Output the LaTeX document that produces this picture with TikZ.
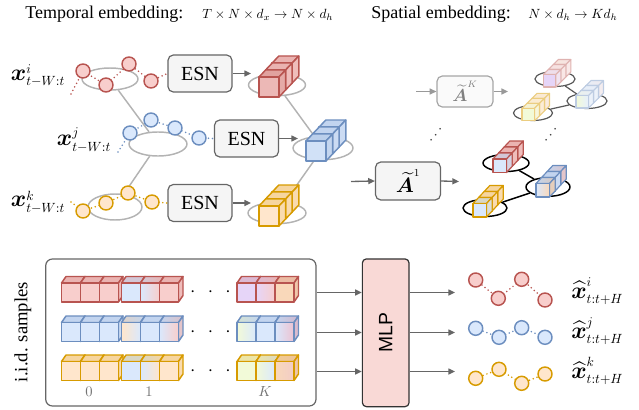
\documentclass[tikz,border=0pt]{standalone}
\usepackage{amsmath,amssymb,bm}
\usepackage{graphicx}
\usepackage{fontspec}
\usetikzlibrary{arrows.meta,shapes.geometric}
\newfontfamily\tms{Liberation Serif}
\newfontfamily\arl{Liberation Sans}
\definecolor{rF}{HTML}{F8CECC}\definecolor{rS}{HTML}{B85450}
\definecolor{bF}{HTML}{DAE8FC}\definecolor{bS}{HTML}{6C8EBF}
\definecolor{yF}{HTML}{FFE6CC}\definecolor{yS}{HTML}{D79B00}
\definecolor{pF}{HTML}{E6D5F8}
\definecolor{oF}{HTML}{F9D8BA}
\definecolor{gF}{HTML}{F2FAD8}
\definecolor{pkF}{HTML}{EBC2D2}
\definecolor{mlpF}{HTML}{F9D9D6}
\definecolor{grayL}{HTML}{B3B3B3}
\definecolor{grayD}{HTML}{666666}
\newcommand\bx{\mbox{\scalebox{1.22}{$\bm{x}$}}}
\newcommand\hbx{\mbox{\scalebox{1.22}{$\widehat{\bm{x}}$}}}
\newcommand\tA{\mbox{\scalebox{1.3}{$\widetilde{\bm{A}}$}}}
\def\cbS{19}\def\cbX{4.5}\def\cbY{-6.5}\def\cbW{1.1pt}
\newcommand\ccube[5]{%
 \begin{scope}[shift={({#1},{#2})}]
  \path[draw=#3, line width=\cbW, left color=#4!78!#3, right color=#5!78!#3] (0,0) -- (\cbX,\cbY) -- ({\cbS+\cbX},\cbY) -- (\cbS,0) -- cycle;
  \path[draw=#3, line width=\cbW, fill=#5!86!#3] (\cbS,0) -- ({\cbS+\cbX},\cbY) -- ({\cbS+\cbX},{\cbS+\cbY}) -- (\cbS,\cbS) -- cycle;
  \path[draw=#3, line width=\cbW, left color=#4, right color=#5] (0,0) rectangle (\cbS,\cbS);
 \end{scope}}
\newcommand\stk[9]{%
 \ccube{#1+2*\cbX}{#2+2*\cbY}{#3}{#8}{#9}%
 \ccube{#1+\cbX}{#2+\cbY}{#3}{#6}{#7}%
 \ccube{#1}{#2}{#3}{#4}{#5}}
\begin{document}
\begin{tikzpicture}[x=0.75pt,y=-0.75pt, line join=round,
  ell/.style={ellipse, draw=grayL, line width=1.1pt, inner sep=0pt},
  gl/.style={draw=grayL, line width=1.1pt},
  pt/.style={circle, line width=1.1pt, minimum size=10.5pt, inner sep=0pt},
  rpt/.style={pt, draw=rS, fill=rF},
  bpt/.style={pt, draw=bS, fill=bF},
  ypt/.style={pt, draw=yS, fill=yF},
  dl/.style={line width=1.3pt, dash pattern=on 0pt off 3pt, line cap=round},
  esn/.style={draw=grayD, fill=black!4, rounded corners=4pt, line width=0.9pt, minimum width=48pt, minimum height=27.75pt, font=\tms\fontsize{15}{17}\selectfont, inner sep=0pt},
  arr/.style={draw=grayD, line width=1pt, -{Triangle[length=5pt,width=4.5pt]}},
  farr/.style={draw=black!40, line width=1pt, -{Triangle[length=5pt,width=4.5pt]}},
  title/.style={anchor=west, font=\tms\fontsize{13.5}{16}\selectfont, inner sep=0pt},
  mtitle/.style={anchor=west, font=\fontsize{10}{12}\selectfont, inner sep=0pt},
  lab/.style={font=\fontsize{14}{16}\selectfont, inner sep=0pt},
  vdots/.style={rotate=50, text=black!75, font=\fontsize{12}{14}\selectfont, inner sep=0pt},
  bell/.style={ellipse, draw=black, line width=1.1pt, inner sep=0pt},
  fell/.style={ellipse, draw=black!65, line width=0.9pt, inner sep=0pt},
  bl/.style={draw=black, line width=1.1pt},
  fl/.style={draw=black!65, line width=0.9pt},
  klab/.style={text=black!55, font=\fontsize{11}{13}\selectfont}
]
\useasboundingbox (0,0) rectangle (639,410);

% titles
\node[title] (t1) at (25,14) {Temporal embedding:};
\node[mtitle] (m1) at (202,15) {$T\times N\times d_x \rightarrow N\times d_h$};
\node[title] (t2) at (371,14) {Spatial embedding:};
\node[mtitle] (m2) at (528,15) {$N\times d_h \rightarrow K d_h$};

% ---------- temporal embedding ----------
\node[ell, minimum width=42pt, minimum height=16.5pt] (er) at (110,79) {};
\node[ell, minimum width=43.5pt, minimum height=18pt] (eb) at (158,144) {};
\node[ell, minimum width=40.5pt, minimum height=19.5pt] (ey) at (115,207) {};
\draw[gl] (er) -- (eb);
\draw[gl] (eb) -- (ey);

\node[lab] (lx1) at (38,76) {$\bx^{i}_{t-W:t}$};
\node[lab] (lx2) at (84,140) {$\bx^{j}_{t-W:t}$};
\node[lab] (lx3) at (38,202) {$\bx^{k}_{t-W:t}$};

\node[esn] (esnR) at (200,73.5) {ESN};
\node[esn] (esnB) at (246.5,138.5) {ESN};
\node[esn] (esnY) at (200,203) {ESN};

\coordinate (rs) at (71,94);
\coordinate (bs) at (118,152);
\coordinate (ys) at (71,202);
\coordinate (r1) at (83,71); \coordinate (r2) at (106,85); \coordinate (r3) at (129,64); \coordinate (r4) at (151,81);
\coordinate (b1) at (130,133); \coordinate (b2) at (151,120); \coordinate (b3) at (175,128); \coordinate (b4) at (199,138);
\coordinate (y1) at (83,211); \coordinate (y2) at (106,203); \coordinate (y3) at (128,193); \coordinate (y4) at (152,202);
\draw[dl, rS] (rs) -- (r1) -- (r2) -- (r3) -- (r4) -- (esnR.west);
\draw[dl, bS] (bs) -- (b1) -- (b2) -- (b3) -- (b4) -- (esnB.west);
\draw[dl, yS] (ys) -- (y1) -- (y2) -- (y3) -- (y4) -- (esnY.west);
\foreach \n in {r1,r2,r3,r4} \node[rpt] (c\n) at (\n) {};
\foreach \n in {b1,b2,b3,b4} \node[bpt] (c\n) at (\n) {};
\foreach \n in {y1,y2,y3,y4} \node[ypt] (c\n) at (\n) {};

% cube groups (temporal)
\node[ell, minimum width=42.75pt, minimum height=16pt] (cr) at (277,85) {};
\node[ell, minimum width=45pt, minimum height=17.5pt] (cb) at (323,148) {};
\node[ell, minimum width=43.5pt, minimum height=16pt] (cy) at (277,213) {};
\draw[gl] (cr) -- (cb);
\draw[gl] (cb) -- (cy);
\coordinate (aR) at (251,73.5);
\coordinate (aB) at (298,138.5);
\coordinate (aY) at (251,203);
\draw[arr] (esnR.east) -- (aR);
\draw[arr] (esnB.east) -- (aB);
\draw[arr] (esnY.east) -- (aY);
\def\cbS{20}\def\cbX{6.6}\def\cbY{-7}\def\cbW{1.1pt}
\stk{259}{77}{rS}{rF!82!rS}{rF!82!rS}{rF}{rF}{rF}{rF}
\stk{306}{141}{bS}{bF!92!bS}{bF!92!bS}{bF}{bF}{bF}{bF}
\stk{259}{206}{yS}{yF}{yF}{yF}{yF}{yF}{yF}

% ---------- spatial embedding ----------
\node[draw=grayD, fill=black!4, rounded corners=4pt, line width=0.9pt, minimum width=48.75pt, minimum height=28.5pt, inner sep=0pt, font=\fontsize{12}{14}\selectfont] (a1) at (408,181) {$\tA^{1}$};
\node[draw=black!35, fill=black!2, rounded corners=4pt, line width=0.9pt, minimum width=42pt, minimum height=23.25pt, inner sep=0pt, text=black!50, font=\fontsize{10}{12}\selectfont] (ak) at (465,91.5) {$\tA^{K}$};
\coordinate (a1in) at (351,181.5);
\coordinate (a1out) at (459,181.5);
\coordinate (akin) at (416,91.5);
\coordinate (akout) at (508,91.5);
\draw[arr] (a1in) -- (a1.west);
\draw[arr] (a1.east) -- (a1out);
\draw[farr] (akin) -- (ak.west);
\draw[farr] (ak.east) -- (akout);
\node[vdots] (vd1) at (437,134) {$\cdots$};
\node[vdots] (vd2) at (552,134) {$\cdots$};

% graph for A^1
\node[bell, minimum width=34.5pt, minimum height=12.75pt] (gR) at (506,163) {};
\node[bell, minimum width=33pt, minimum height=14pt] (gB) at (548,187) {};
\node[bell, minimum width=33pt, minimum height=12.75pt] (gY) at (485,208) {};
\draw[bl] (gR) -- (gB);
\draw[bl] (gB) -- (gY);
\def\cbS{13.5}\def\cbX{5.6}\def\cbY{-6}\def\cbW{0.9pt}
\stk{493}{159}{rS}{bF}{bF}{rF}{rF}{rF}{rF}
\stk{536}{183.5}{bS}{bF}{oF}{bF}{bF}{bF}{rF}
\stk{473}{203.5}{yS}{bF}{bF}{yF}{yF}{yF}{yF}

% graph for A^K (faded)
\node[fell, minimum width=30pt, minimum height=11.25pt] (fR) at (555,79) {};
\node[fell, minimum width=30pt, minimum height=11.25pt] (fB) at (587,101) {};
\node[fell, minimum width=29.25pt, minimum height=11.25pt] (fY) at (533,113) {};
\draw[fl] (fR) -- (fB);
\draw[fl] (fB) -- (fY);
\def\cbS{12.5}\def\cbX{5}\def\cbY{-5}\def\cbW{0.8pt}
\stk{543.3}{74.5}{rS!45!white}{pF}{pF}{rF!70!white}{rF!70!white}{yF}{rF!60!white}
\stk{576}{95.5}{bS!45!white}{gF}{bF!70!white}{bF!70!white}{bF!70!white}{bF!70!white}{rF!60!white}
\stk{522}{108.3}{yS!50!white}{gF}{gF}{yF!80!white}{yF}{yF}{rF!60!white}

% ---------- bottom: samples ----------
\node[rotate=90, font=\tms\fontsize{14}{16}\selectfont, inner sep=0pt] (iid) at (23,332) {i.i.d. samples};
\node[draw=grayD, rounded corners=5pt, line width=0.9pt, minimum width=202.7pt, minimum height=110.25pt, inner sep=0pt] (samp) at (180.85,332.5) {};
\def\cbS{19}\def\cbX{4.5}\def\cbY{-6.5}\def\cbW{1.1pt}
% red row
\ccube{61.5}{283}{rS}{rF}{rF}
\ccube{80.5}{283}{rS}{rF}{rF}
\ccube{99.5}{283}{rS}{rF}{rF}
\ccube{121.5}{283}{rS}{bF}{bF}
\ccube{140.5}{283}{rS}{bF}{rF}
\ccube{159.5}{283}{rS}{rF}{rF}
\ccube{237}{283}{rS}{pF}{pF}
\ccube{256}{283}{rS}{pF}{rF}
\ccube{275}{283}{rS}{oF}{oF}
% blue row
\ccube{61.5}{322.5}{bS}{bF}{bF}
\ccube{80.5}{322.5}{bS}{bF}{bF}
\ccube{99.5}{322.5}{bS}{bF}{bF}
\ccube{121.5}{322.5}{bS}{yF}{bF}
\ccube{140.5}{322.5}{bS}{bF}{bF}
\ccube{159.5}{322.5}{bS}{bF}{rF}
\ccube{237}{322.5}{bS}{gF}{bF}
\ccube{256}{322.5}{bS}{bF}{bF}
\ccube{275}{322.5}{bS}{bF}{pkF}
% yellow row
\ccube{61.5}{361.5}{yS}{yF}{yF}
\ccube{80.5}{361.5}{yS}{yF}{yF}
\ccube{99.5}{361.5}{yS}{yF}{yF}
\ccube{121.5}{361.5}{yS}{bF}{bF}
\ccube{140.5}{361.5}{yS}{bF}{yF}
\ccube{159.5}{361.5}{yS}{yF}{yF}
\ccube{237}{361.5}{yS}{gF}{gF}
\ccube{256}{361.5}{yS}{gF}{bF}
\ccube{275}{361.5}{yS}{oF}{pkF!50!oF}
\foreach \yy/\nm in {292.5/dR,332/dB,371/dY}
  \node[font=\fontsize{15}{17}\selectfont, inner sep=0pt] (\nm) at (210.5,\yy) {$\cdot\hspace{6pt}\cdot\hspace{6pt}\cdot$};
\node[klab] (l0) at (89,392) {$0$};
\node[klab] (l1) at (149,392) {$1$};
\node[klab] (lK) at (265,392) {$K$};

% MLP
\node[draw=black!80, fill=mlpF, rounded corners=3pt, line width=0.9pt, minimum width=35pt, minimum height=110.8pt, inner sep=0pt, font=\arl\fontsize{14.5}{16}\selectfont] (mlp) at (385.7,332.8) {\rotatebox{90}{MLP}};
\coordinate (rowR) at (0,292.5);
\coordinate (rowB) at (0,332.5);
\coordinate (rowY) at (0,371.5);
\coordinate (oR) at (455,292.5);
\coordinate (oB) at (455,332.5);
\coordinate (oY) at (455,371.5);
\draw[arr] (samp.east |- rowR) -- (mlp.west |- rowR);
\draw[arr] (samp.east |- rowB) -- (mlp.west |- rowB);
\draw[arr] (samp.east |- rowY) -- (mlp.west |- rowY);
\draw[arr] (mlp.east |- rowR) -- (oR);
\draw[arr] (mlp.east |- rowB) -- (oB);
\draw[arr] (mlp.east |- rowY) -- (oY);

% outputs
\coordinate (p1) at (475.7,280); \coordinate (p2) at (498.3,298.3); \coordinate (p3) at (521.7,279.3); \coordinate (p4) at (545,300);
\coordinate (q1) at (475.7,328.3); \coordinate (q2) at (499,337.3); \coordinate (q3) at (521.7,327.7); \coordinate (q4) at (545,337.3);
\coordinate (s1) at (475.7,378.3); \coordinate (s2) at (499,369.3); \coordinate (s3) at (521.7,383.3); \coordinate (s4) at (545,374);
\draw[dl, rS] (p1) -- (p2) -- (p3) -- (p4);
\draw[dl, bS] (q1) -- (q2) -- (q3) -- (q4);
\draw[dl, yS] (s1) -- (s2) -- (s3) -- (s4);
\foreach \n in {p1,p2,p3,p4} \node[rpt] (c\n) at (\n) {};
\foreach \n in {q1,q2,q3,q4} \node[bpt] (c\n) at (\n) {};
\foreach \n in {s1,s2,s3,s4} \node[ypt] (c\n) at (\n) {};
\node[lab, anchor=west] (h1) at (571,291) {$\hbx^{i}_{t:t+H}$};
\node[lab, anchor=west] (h2) at (571,331) {$\hbx^{j}_{t:t+H}$};
\node[lab, anchor=west] (h3) at (571,371) {$\hbx^{k}_{t:t+H}$};
\end{tikzpicture}
\end{document}
